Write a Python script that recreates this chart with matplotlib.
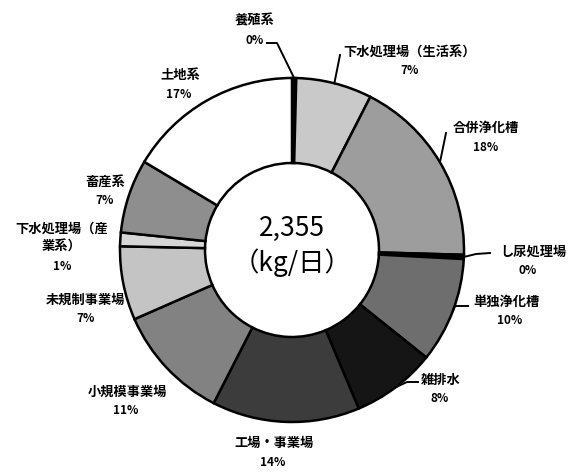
import numpy as np
import matplotlib.pyplot as plt

plt.rcParams['font.family'] = ['Noto Sans CJK JP', 'DejaVu Sans']

# data (clockwise from top)
categories = ["養殖系", "下水処理場（生活系）", "合併浄化槽", "し尿処理場", "単独浄化槽",
              "雑排水", "工場・事業場", "小規模事業場", "未規制事業場",
              "下水処理場（産\n業系）", "畜産系", "土地系"]
shares = [0.4, 7.2, 18.1, 0.4, 10.0, 8.0, 14.0, 11.0, 7.0, 1.3, 7.0, 16.6]
pct_labels = ["0%", "7%", "18%", "0%", "10%", "8%", "14%", "11%", "7%", "1%", "7%", "17%"]
total_text = "2,355\n（kg/日）"

colors = ["#000000", "#c9c9c9", "#9d9d9d", "#000000", "#6e6e6e", "#151515",
          "#3c3c3c", "#828282", "#c4c4c4", "#d6d6d6", "#8e8e8e", "#ffffff"]

# layout in pixel coordinates (y measured from top)
W, H = 573, 474
cx, cy, R, r_in = 292, 250, 172, 87
label_pos = [(255, 20), (410, 52), (486, 128), (533, 252), (507, 302), (441, 380),
             (274, 443), (127, 392), (86, 300), (62, 237), (105, 182), (180, 75)]
pct_pos = [(255, 40), (410, 70), (486, 147), (528, 270), (510, 320), (440, 398),
           (273, 462), (126, 410), (86, 319), (62, 267), (105, 200), (179, 94)]
leaders = {0: [(267, 43), (277, 43)], 1: [(340, 55)], 2: [(446, 133)],
           3: [(490, 253), (476, 254)], 4: [(468, 306), (455, 306)],
           5: [(418, 382), (407, 382)]}

fig = plt.figure(figsize=(W / 100, H / 100), dpi=100)
ax = fig.add_axes([0, 0, 1, 1])

wedges, _ = ax.pie(shares, colors=colors, startangle=90, counterclock=False,
                   center=(cx, H - cy), radius=R, frame=True,
                   wedgeprops=dict(width=R - r_in, edgecolor="black", linewidth=1.8))
ax.set_xlim(0, W)
ax.set_ylim(0, H)
ax.axis("off")

for i, name in enumerate(categories):
    lx, ly = label_pos[i]
    ax.text(lx, H - ly, name, ha="center", va="center", fontsize=9.5,
            fontweight="bold", linespacing=1.25)
    px, py = pct_pos[i]
    ax.text(px, H - py, pct_labels[i], ha="center", va="center", fontsize=8.5,
            fontweight="bold")

# leader lines: from the label end to the outer edge of the wedge
for i, pts in leaders.items():
    w = wedges[i]
    ang = np.deg2rad((w.theta1 + w.theta2) / 2)
    ex = cx + R * np.cos(ang)
    ey = (H - cy) + R * np.sin(ang)
    xs = [p[0] for p in pts] + [ex]
    ys = [H - p[1] for p in pts] + [ey]
    ax.plot(xs, ys, color="black", linewidth=1.4)

ax.text(cx, H - cy + 4, total_text, ha="center", va="center", fontsize=19,
        linespacing=1.3)

fig.savefig("out.png", dpi=100)
